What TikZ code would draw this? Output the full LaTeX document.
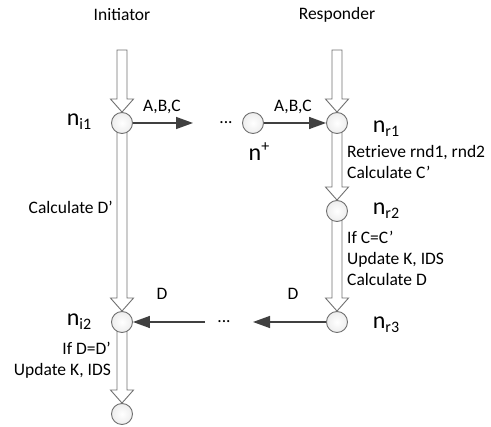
\documentclass[tikz,border=0pt]{standalone}
\usepackage{fontspec}
\setmainfont{Carlito}
\usetikzlibrary{arrows.meta,calc,backgrounds}
\definecolor{lineg}{HTML}{707070}
\definecolor{darkg}{HTML}{404040}
\newcommand{\bign}[1]{{\fontsize{24}{28}\selectfont n}\raisebox{-4pt}{\fontsize{16}{18}\selectfont #1}}
\newcommand{\blockarrow}[2]{%
  \path[hollow] let \p1=(#1), \p2=(#2.north) in
    (\x1-5pt,\y1) -- (\x1-5pt,\y2+13pt) -- (\x1-11.5pt,\y2+13pt) -- (\x2,\y2)
    -- (\x1+11.5pt,\y2+13pt) -- (\x1+5pt,\y2+13pt) -- (\x1+5pt,\y1) -- cycle;}
\begin{document}
\begin{tikzpicture}[x=1pt,y=-1pt,
  every node/.style={font=\fontsize{17.5}{21}\selectfont, inner sep=0pt},
  state/.style={circle, draw=lineg, line width=0.9pt, inner color=white, outer color=gray!14, minimum size=21pt},
  msg/.style={draw=darkg, line width=1.4pt, -{Triangle[length=17pt,width=12pt]}},
  hollow/.style={draw=lineg, line width=0.9pt, fill=white, line join=miter}]

\useasboundingbox (0,0) rectangle (491,427);

% column titles
\node (init) at (122,15) {Initiator};
\node (resp) at (337,15) {Responder};

% tops of the lifelines
\coordinate (itop) at (122,50);
\coordinate (rtop) at (337,50);

% states
\node[state] (ni1) at (122,123) {};
\node[state] (ni2) at (122,322) {};
\node[state] (nend) at (122,414) {};
\node[state] (nplus) at (253,123) {};
\node[state] (nr1) at (337,123) {};
\node[state] (nr2) at (337,211) {};
\node[state] (nr3) at (337,322) {};

% block arrows (lifelines)
\begin{pgfonlayer}{background}
\blockarrow{itop}{ni1}
\blockarrow{ni1}{ni2}
\blockarrow{ni2}{nend}
\blockarrow{rtop}{nr1}
\blockarrow{nr1}{nr2}
\blockarrow{nr2}{nr3}
\end{pgfonlayer}

% state labels
\node (li1) at (79,122) {\bign{i1}};
\node (li2) at (79,322) {\bign{i2}};
\node (lr1) at (386,129) {\bign{r1}};
\node (lr2) at (386,211) {\bign{r2}};
\node (lr3) at (386,325) {\bign{r3}};
\node (lplus) at (259,152) {{\fontsize{24}{28}\selectfont n}\raisebox{9pt}{\fontsize{16}{18}\selectfont +}};

% messages
\coordinate (m1) at (193,123);
\draw[msg] (ni1) -- (m1);
\node (dots1) at (226,123) {...};
\draw[msg] (nplus) -- (nr1);
\node (abc1) at (162,107) {A,B,C};
\node (abc2) at (293,107) {A,B,C};

\coordinate (m2) at (253,322);
\draw[msg] (nr3) -- (m2);
\node (dots2) at (224,322) {...};
\coordinate (m3) at (205,322);
\draw[msg] (m3) -- (ni2);
\node (d1) at (162,294) {D};
\node (d2) at (293,294) {D};

% computations
\node[anchor=east] (calcd) at (113,207) {Calculate D’};
\node[anchor=west, align=left] (retr) at (347,162) {Retrieve rnd1, rnd2\\Calculate C’};
\node[anchor=west, align=left] (ifc) at (347,258) {If C=C’\\Update K, IDS\\Calculate D};
\node[anchor=east, align=right] (ifd) at (111,360) {If D=D’\\Update K, IDS};
\end{tikzpicture}
\end{document}
